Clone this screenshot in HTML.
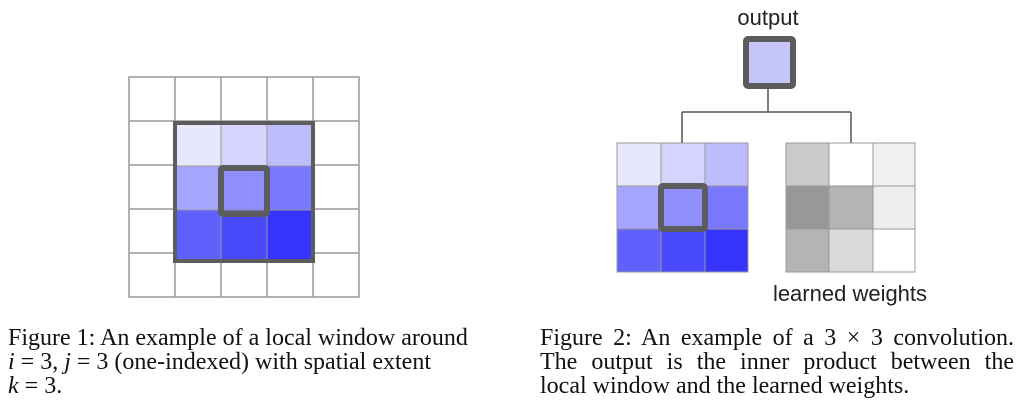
<!DOCTYPE html>
<html><head><style>
body{margin:0;width:1024px;height:413px;background:#fff;position:relative;overflow:hidden}
.cap{position:absolute;font-family:"Liberation Serif",serif;font-size:24px;line-height:24px;color:#111;white-space:nowrap}
.j{text-align:justify;text-align-last:justify;white-space:normal}
</style></head><body>
<svg width="1024" height="413" style="position:absolute;left:0;top:0">
<g stroke="#999" stroke-width="1.5" fill="none">
<rect x="129" y="77" width="230" height="220"/>
<line x1="175" y1="77" x2="175" y2="297"/><line x1="221" y1="77" x2="221" y2="297"/><line x1="267" y1="77" x2="267" y2="297"/><line x1="313" y1="77" x2="313" y2="297"/>
<line x1="129" y1="121" x2="359" y2="121"/><line x1="129" y1="165" x2="359" y2="165"/><line x1="129" y1="209" x2="359" y2="209"/><line x1="129" y1="253" x2="359" y2="253"/>
</g>
<g>
<rect x="175" y="123" width="46" height="43" fill="#e8e8fd"/><rect x="221" y="123" width="46" height="43" fill="#d4d4fd"/><rect x="267" y="123" width="46" height="43" fill="#bdbdfd"/>
<rect x="175" y="166" width="46" height="44" fill="#a5a5fd"/><rect x="221" y="166" width="46" height="44" fill="#8e8efd"/><rect x="267" y="166" width="46" height="44" fill="#7878fd"/>
<rect x="175" y="210" width="46" height="51" fill="#6060fd"/><rect x="221" y="210" width="46" height="51" fill="#4a4afd"/><rect x="267" y="210" width="46" height="51" fill="#3535fd"/>
</g>
<g stroke="#999" stroke-width="1"><line x1="221" y1="123" x2="221" y2="261"/><line x1="267" y1="123" x2="267" y2="261"/><line x1="175" y1="166" x2="313" y2="166"/><line x1="175" y1="210" x2="313" y2="210"/></g>
<rect x="175" y="123" width="138" height="138" fill="none" stroke="#5c5c5c" stroke-width="4"/>
<rect x="221" y="168" width="46" height="46" fill="none" stroke="#5c5c5c" stroke-width="6" rx="2"/>

<text x="768" y="25" font-family="Liberation Sans,sans-serif" font-size="22" text-anchor="middle" fill="#222">output</text>
<rect x="746" y="39" width="47" height="47" fill="#c6c6fd" stroke="#5c5c5c" stroke-width="6" rx="2"/>
<path d="M768 88V112M682 112H851M682 112V143M851 112V143" stroke="#555" stroke-width="1.5" fill="none"/>
<g>
<rect x="617" y="143" width="44" height="43" fill="#e8e8fd"/><rect x="661" y="143" width="44" height="43" fill="#d4d4fd"/><rect x="705" y="143" width="43" height="43" fill="#bdbdfd"/>
<rect x="617" y="186" width="44" height="43" fill="#a5a5fd"/><rect x="661" y="186" width="44" height="43" fill="#8e8efd"/><rect x="705" y="186" width="43" height="43" fill="#7878fd"/>
<rect x="617" y="229" width="44" height="43" fill="#6060fd"/><rect x="661" y="229" width="44" height="43" fill="#4a4afd"/><rect x="705" y="229" width="43" height="43" fill="#3535fd"/>
</g>
<g stroke="#999" stroke-width="1" fill="none"><rect x="617" y="143" width="131" height="129"/><line x1="661" y1="143" x2="661" y2="272"/><line x1="705" y1="143" x2="705" y2="272"/><line x1="617" y1="186" x2="748" y2="186"/><line x1="617" y1="229" x2="748" y2="229"/></g>
<rect x="661" y="186" width="44" height="43" fill="none" stroke="#5c5c5c" stroke-width="6" rx="2"/>
<g>
<rect x="786" y="143" width="43" height="43" fill="#cacaca"/><rect x="829" y="143" width="44" height="43" fill="#fff"/><rect x="873" y="143" width="42" height="43" fill="#f0f0f0"/>
<rect x="786" y="186" width="43" height="43" fill="#989898"/><rect x="829" y="186" width="44" height="43" fill="#b4b4b4"/><rect x="873" y="186" width="42" height="43" fill="#eeeeee"/>
<rect x="786" y="229" width="43" height="43" fill="#b4b4b4"/><rect x="829" y="229" width="44" height="43" fill="#dadada"/><rect x="873" y="229" width="42" height="43" fill="#fff"/>
</g>
<g stroke="#999" stroke-width="1" fill="none"><rect x="786" y="143" width="129" height="129"/><line x1="829" y1="143" x2="829" y2="272"/><line x1="873" y1="143" x2="873" y2="272"/><line x1="786" y1="186" x2="915" y2="186"/><line x1="786" y1="229" x2="915" y2="229"/></g>
<text x="850" y="301" font-family="Liberation Sans,sans-serif" font-size="22" text-anchor="middle" fill="#222">learned weights</text>
</svg>
<div class="cap" style="left:8px;top:326px">Figure 1: An example of a local window around</div>
<div class="cap" style="left:8px;top:350px"><i>i</i> = 3, <i>j</i> = 3 (one-indexed) with spatial extent</div>
<div class="cap" style="left:8px;top:374px"><i>k</i> = 3.</div>
<div class="cap j" style="left:540px;top:326px;width:474px">Figure 2: An example of a 3 × 3 convolution.</div>
<div class="cap j" style="left:540px;top:350px;width:474px">The output is the inner product between the</div>
<div class="cap" style="left:540px;top:374px">local window and the learned weights.</div>
</body></html>
